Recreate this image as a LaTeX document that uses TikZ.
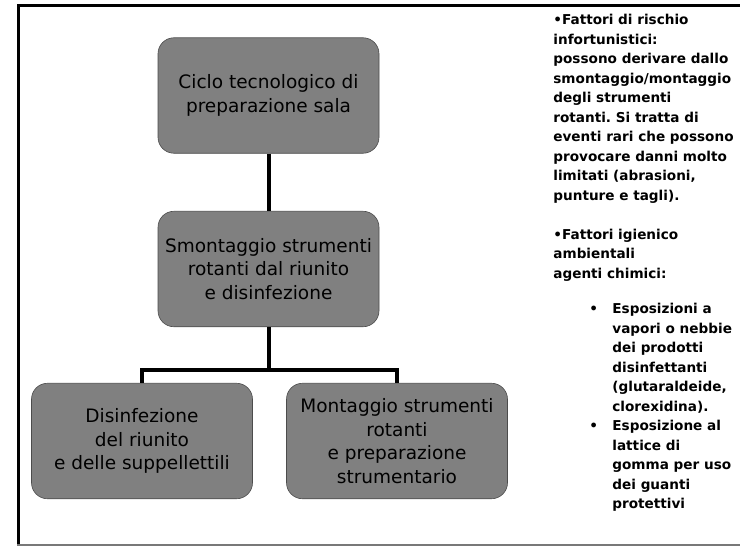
\documentclass[tikz,border=0pt]{standalone}
\usepackage{fontspec}
\setmainfont{DejaVu Sans}
\definecolor{boxgray}{RGB}{128,128,128}
\definecolor{rulegray}{RGB}{120,120,120}
\frenchspacing
\begin{document}
\begin{tikzpicture}[x=1pt, y=1pt, node distance=173.5pt, thick]
\tikzstyle{block} = [rectangle, draw=black!70, line width=0.6pt, fill=boxgray, align=center,
                     rounded corners=16pt, minimum width=221pt, minimum height=115.5pt, inner sep=0pt,
                     font=\fontsize{18.5}{23.5}\selectfont]
\tikzstyle{line} = [draw, line width=4pt]
\tikzstyle{note} = [anchor=base west, align=left, inner sep=0pt,
                    font=\bfseries\fontsize{13.6}{19.5}\selectfont]

\useasboundingbox (0,0) rectangle (740,-546);

% frame of the slide
\draw [line width=3pt] (18.5,-546) -- (18.5,-5.5) -- (740,-5.5);
\draw [rulegray, line width=1.5pt] (17,-545) -- (740,-545);

\node [block] (ciclo) at (268.5,-95.5) {Ciclo tecnologico di\\preparazione sala};
\node [block, below of=ciclo] (smontaggio) {Smontaggio strumenti\\rotanti dal riunito\\ e disinfezione};
\node [block, below of=smontaggio, node distance=172pt, xshift=-126.5pt] (disinfezione) {Disinfezione\\del riunito\\e delle suppellettili};
\node [block, below of=smontaggio, node distance=172pt, xshift=128.5pt] (montaggio) {Montaggio strumenti\\rotanti\\e preparazione\\strumentario};
\coordinate [below of=smontaggio, node distance=101pt] (split);

\path [line] (ciclo) -- (smontaggio);
\path [line] (smontaggio) -- (split);
\path [line] (disinfezione) |- (split) -| (montaggio);

% risk factors (base = last line)
\node [note] (rischio) at (553,-200) {•Fattori di rischio\\infortunistici:\\possono derivare dallo\\smontaggio/montaggio\\degli strumenti\\rotanti. Si tratta di\\eventi rari che possono\\provocare danni molto\\limitati (abrasioni,\\punture e tagli).};
\node [note] (igienico) at (553,-278) {•Fattori igienico\\ambientali\\agenti chimici:};
\node [note] (esposizioni) at (612,-411) {Esposizioni a\\vapori o nebbie\\dei prodotti\\disinfettanti\\(glutaraldeide,\\clorexidina).};
\node [note] (lattice) at (612,-508.5) {Esposizione al\\lattice di\\gomma per uso\\dei guanti\\protettivi};
\node [note] (bullet1) at (589,-313.5) {•};
\node [note] (bullet2) at (589,-430.5) {•};
\end{tikzpicture}
\end{document}
